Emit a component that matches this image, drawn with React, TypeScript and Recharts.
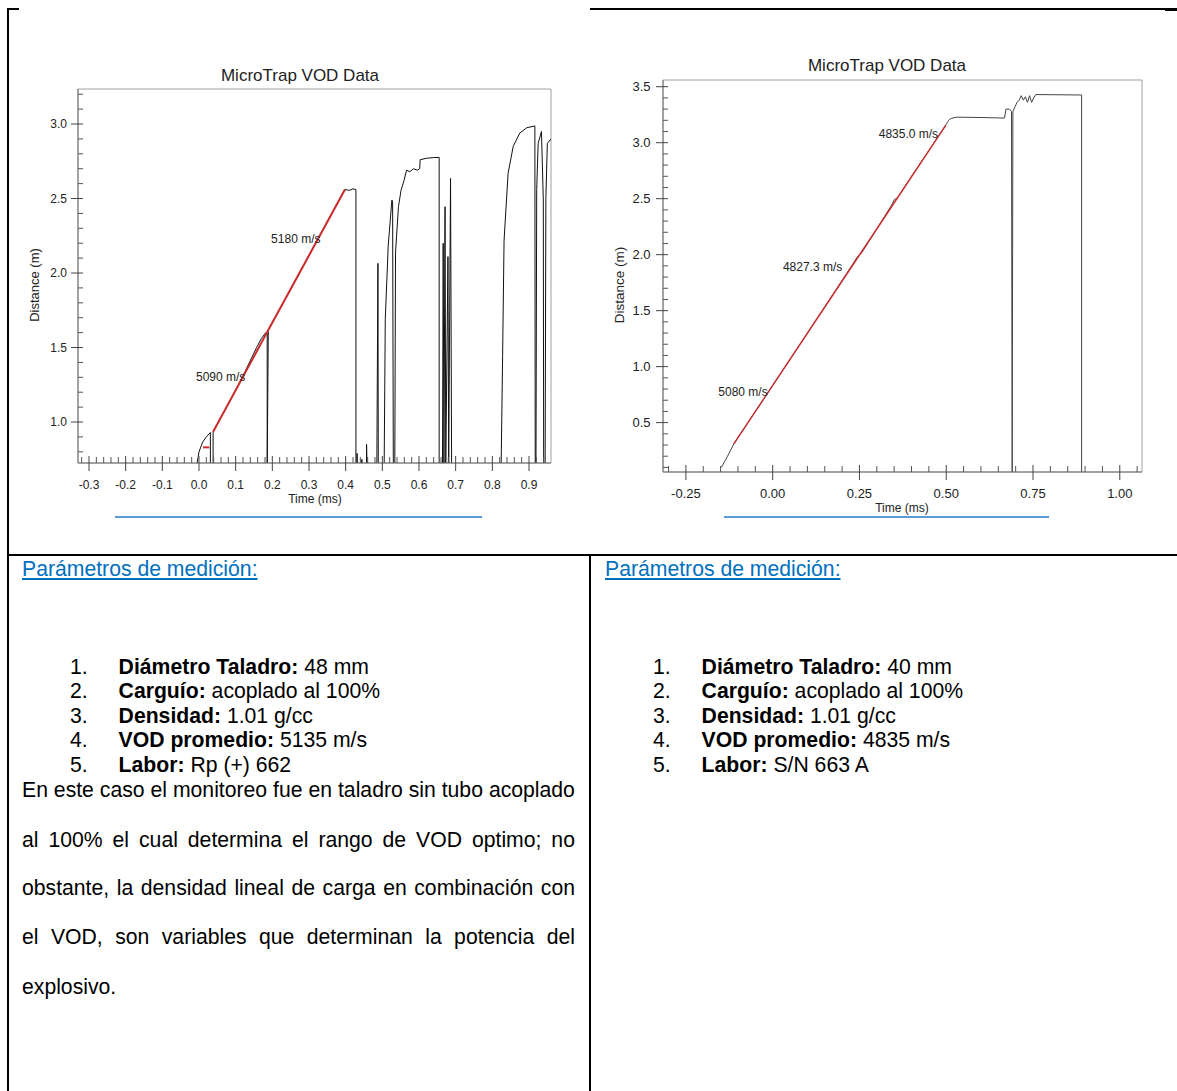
import React from "react";
import { LineChart, Line, XAxis, YAxis, ReferenceArea, ReferenceDot } from "recharts";

const FONT = '"Liberation Sans", Arial, Helvetica, sans-serif';

// ---------- left record (48 mm hole) ----------
const leftXLabels = ["-0.3", "-0.2", "-0.1", "0.0", "0.1", "0.2", "0.3", "0.4", "0.5", "0.6", "0.7", "0.8", "0.9"];
const leftYLabels = ["1.0", "1.5", "2.0", "2.5", "3.0"];

// [time ms, distance m]
const leftTrace: [number, number][] = [
  [-0.007, 0.7], [-0.002, 0.77], [0.0, 0.8], [0.01, 0.865], [0.02, 0.9], [0.031, 0.93],
  [0.031, 0.7], [0.0385, 0.7], [0.0385, 0.935],
  [0.08, 1.12], [0.12, 1.31], [0.157, 1.5], [0.17, 1.56], [0.182, 1.6], [0.186, 1.6],
  [0.186, 0.7], [0.189, 1.62],
  [0.25, 1.89], [0.3, 2.12], [0.35, 2.345], [0.398, 2.56], [0.41, 2.555], [0.42, 2.565], [0.428, 2.56],
  [0.428, 0.7],
  [0.431, 0.7], [0.431, 0.79], [0.432, 0.7],
  [0.444, 0.7], [0.444, 0.75], [0.445, 0.7],
  [0.457, 0.7], [0.457, 0.85], [0.458, 0.7],
  [0.485, 0.7], [0.488, 2.065], [0.489, 0.7],
  [0.505, 0.7], [0.508, 1.69], [0.516, 2.18], [0.526, 2.49], [0.528, 2.48], [0.53, 0.7],
  [0.534, 0.7], [0.536, 2.14], [0.544, 2.445], [0.551, 2.555], [0.559, 2.62], [0.566, 2.69],
  [0.575, 2.68], [0.585, 2.7], [0.595, 2.69], [0.602, 2.7], [0.603, 2.76], [0.62, 2.77], [0.64, 2.775], [0.655, 2.776],
  [0.655, 0.7],
  [0.664, 0.7], [0.666, 2.2], [0.668, 0.7], [0.671, 2.445], [0.673, 0.7], [0.679, 2.11], [0.681, 0.7],
  [0.686, 2.635], [0.689, 0.7],
  [0.824, 0.7], [0.828, 1.44], [0.832, 2.22], [0.843, 2.67], [0.857, 2.85], [0.875, 2.94], [0.894, 2.975], [0.916, 2.987],
  [0.917, 0.7], [0.919, 0.7], [0.921, 2.56], [0.925, 2.87], [0.934, 2.95], [0.939, 2.49], [0.94, 0.7],
  [0.944, 0.7], [0.946, 2.5], [0.95, 2.87], [0.96, 2.9],
];

// red regression segments
const leftFits: [number, number][][] = [
  [[0.011, 0.83], [0.028, 0.83]],
  [[0.0385, 0.935], [0.189, 1.617]],
  [[0.189, 1.617], [0.398, 2.56]],
];
const leftNotes = ["5090 m/s", "5180 m/s"];
const leftNoteAt: [number, number][] = [[0.059, 1.304], [0.264, 2.228]];

// ---------- right record (40 mm hole) ----------
const rightXLabels = ["-0.25", "0.00", "0.25", "0.50", "0.75", "1.00"];
const rightYLabels = ["0.5", "1.0", "1.5", "2.0", "2.5", "3.0", "3.5"];

const rightTrace: [number, number][] = [
  [-0.148, 0.1], [-0.13, 0.2], [-0.112, 0.31], [-0.05, 0.6], [0.0, 0.83], [0.1, 1.3], [0.2, 1.77],
  [0.245, 1.985], [0.25, 2.0], [0.255, 2.01], [0.3, 2.23], [0.345, 2.455], [0.35, 2.49], [0.36, 2.51],
  [0.4, 2.7], [0.45, 2.93], [0.499, 3.16], [0.507, 3.2], [0.514, 3.217], [0.53, 3.228], [0.6, 3.225],
  [0.668, 3.22], [0.672, 3.3], [0.682, 3.3], [0.688, 3.28],
  [0.69, 0.03], [0.692, 3.28],
  [0.698, 3.32], [0.704, 3.36], [0.71, 3.38], [0.716, 3.42], [0.722, 3.38], [0.728, 3.41], [0.734, 3.36],
  [0.74, 3.42], [0.746, 3.36], [0.752, 3.4], [0.758, 3.43], [0.89, 3.426],
  [0.89, 0.03],
];

const rightFits: [number, number][][] = [
  [[-0.112, 0.31], [0.0, 0.832]],
  [[0.0, 0.832], [0.25, 1.997]],
  [[0.25, 1.997], [0.499, 3.157]],
];
const rightNotes = ["5080 m/s", "4827.3 m/s", "4835.0 m/s"];
const rightNoteAt: [number, number][] = [[-0.0855, 0.774], [0.115, 1.891], [0.391, 3.083]];

// ---------- table text ----------
const paramLabels = ["Diámetro Taladro:", "Carguío:", "Densidad:", "VOD promedio:", "Labor:"];
const leftParamValues = ["48 mm", "acoplado al 100%", "1.01 g/cc", "5135 m/s", "Rp (+) 662"];
const rightParamValues = ["40 mm", "acoplado al 100%", "1.01 g/cc", "4835 m/s", "S/N 663 A"];
const commentLines = [
  "En este caso el monitoreo fue en taladro sin tubo acoplado",
  "al 100% el cual determina el rango de VOD optimo; no",
  "obstante, la densidad lineal de carga en combinación con",
  "el VOD, son variables que determinan la potencia del",
  "explosivo.",
];

const steps = (from: number, to: number, step: number) => {
  const out: number[] = [];
  const n = Math.round((to - from) / step);
  for (let i = 0; i <= n; i++) out.push(Math.round((from + i * step) * 1000) / 1000);
  return out;
};

const rows = (pts: [number, number][]) => pts.map(([t, d]) => ({ t, d }));

const findLabel = (labels: string[], v: number) =>
  labels.find((l) => Math.abs(parseFloat(l) - v) < 1e-6);

const makeXTick = (labels: string[], dy: number, fs: number) => (p: any) => {
  const { x, y, payload } = p;
  const lab = findLabel(labels, payload.value);
  if (lab === undefined) return <line x1={x} y1={y} x2={x} y2={y - 6} stroke="#555" />;
  return (
    <g>
      <line x1={x} y1={y - 7} x2={x} y2={y + 8} stroke="#444" />
      <text x={x} y={y + dy} textAnchor="middle" dominantBaseline="central" fontSize={fs} fontFamily={FONT} fill="#222">
        {lab}
      </text>
    </g>
  );
};

const makeYTick = (labels: string[], dx: number, fs: number) => (p: any) => {
  const { x, y, payload } = p;
  const lab = findLabel(labels, payload.value);
  if (lab === undefined) return <line x1={x} y1={y} x2={x + 5} y2={y} stroke="#555" />;
  return (
    <g>
      <line x1={x - 7} y1={y} x2={x + 5} y2={y} stroke="#444" />
      <text x={x - dx} y={y} textAnchor="end" dominantBaseline="central" fontSize={fs} fontFamily={FONT} fill="#222">
        {lab}
      </text>
    </g>
  );
};

interface VodChartProps {
  width: number;
  height: number;
  margin: { top: number; right: number; bottom: number; left: number };
  xDomain: [number, number];
  yDomain: [number, number];
  xLabels: string[];
  yLabels: string[];
  xTicks: number[];
  yTicks: number[];
  trace: [number, number][];
  fits: [number, number][][];
  notes: string[];
  noteAt: [number, number][];
  tickFont: number;
  xLabelDy: number;
  yLabelDx: number;
  traceColor: string;
  fitWidth: number;
}

function VodChart(props: VodChartProps) {
  const { xDomain, yDomain } = props;
  return (
    <LineChart width={props.width} height={props.height} margin={props.margin}>
      <ReferenceArea
        x1={xDomain[0]}
        x2={xDomain[1]}
        y1={yDomain[0]}
        y2={yDomain[1]}
        fill="none"
        stroke="#a0a0a0"
        ifOverflow="visible"
      />
      <XAxis
        type="number"
        dataKey="t"
        domain={xDomain}
        allowDataOverflow
        ticks={props.xTicks}
        interval={0}
        tickSize={0}
        tickMargin={0}
        tickLine={false}
        axisLine={{ stroke: "#777" }}
        height={40}
        tick={makeXTick(props.xLabels, props.xLabelDy, props.tickFont)}
      />
      <YAxis
        type="number"
        dataKey="d"
        domain={yDomain}
        allowDataOverflow
        ticks={props.yTicks}
        interval={0}
        tickSize={0}
        tickMargin={0}
        tickLine={false}
        axisLine={{ stroke: "#777" }}
        width={50}
        tick={makeYTick(props.yLabels, props.yLabelDx, props.tickFont)}
      />
      <Line
        data={rows(props.trace)}
        dataKey="d"
        type="linear"
        stroke={props.traceColor}
        strokeWidth={1}
        dot={false}
        isAnimationActive={false}
      />
      {props.fits.map((seg, i) => (
        <Line
          key={`fit-${i}`}
          data={rows(seg)}
          dataKey="d"
          type="linear"
          stroke="#cc2b2b"
          strokeWidth={props.fitWidth}
          dot={false}
          isAnimationActive={false}
        />
      ))}
      {props.notes.map((n, i) => (
        <ReferenceDot
          key={`note-${i}`}
          x={props.noteAt[i][0]}
          y={props.noteAt[i][1]}
          r={1}
          fill="none"
          stroke="none"
          label={{ value: n, position: "center", fontSize: 12, fill: "#222", fontFamily: FONT }}
        />
      ))}
    </LineChart>
  );
}

const abs = (left: number, top: number, extra: React.CSSProperties = {}): React.CSSProperties => ({
  position: "absolute",
  left,
  top,
  ...extra,
});

const TXT = 21.2;
const LINE = 24.5;
const itemTops = [654.7, 679, 703.7, 728, 753];
const commentTops = [778, 828, 876, 925, 975];

function Params({ x, values }: { x: number; values: string[] }) {
  return (
    <>
      <div
        style={abs(x, 556.7, {
          fontSize: TXT,
          lineHeight: `${LINE}px`,
          color: "#0070C0",
          textDecoration: "underline",
          whiteSpace: "nowrap",
        })}
      >
        Parámetros de medición:
      </div>
      {values.map((v, i) => (
        <React.Fragment key={i}>
          <div style={abs(x + 48, itemTops[i], { fontSize: TXT, lineHeight: `${LINE}px`, whiteSpace: "nowrap" })}>
            {i + 1}.
          </div>
          <div style={abs(x + 96.6, itemTops[i], { fontSize: TXT, lineHeight: `${LINE}px`, whiteSpace: "nowrap" })}>
            <b>{paramLabels[i]}</b> {v}
          </div>
        </React.Fragment>
      ))}
    </>
  );
}

export default function App() {
  return (
    <div
      style={{
        position: "absolute",
        left: 0,
        top: 0,
        width: 1177,
        height: 1091,
        background: "#fff",
        overflow: "hidden",
        fontFamily: FONT,
        color: "#000",
      }}
    >
      {/* table rules */}
      <div style={abs(7, 8, { width: 2, height: 1083, background: "#000" })} />
      <div style={abs(7, 8, { width: 12, height: 2, background: "#000" })} />
      <div style={abs(590, 8, { width: 587, height: 1.5, background: "#000" })} />
      <div style={abs(1165, 8, { width: 12, height: 2.5, background: "#000" })} />
      <div style={abs(7, 554, { width: 1170, height: 2, background: "#000" })} />
      <div style={abs(589, 554, { width: 2, height: 537, background: "#000" })} />

      {/* left chart */}
      <div style={abs(0, 66, { width: 600, textAlign: "center", fontSize: 17, lineHeight: "20px", color: "#222" })}>
        MicroTrap VOD Data
      </div>
      <div style={abs(0, 0)}>
        <VodChart
          width={590}
          height={520}
          margin={{ top: 89, right: 39, bottom: 17, left: 28 }}
          xDomain={[-0.33, 0.96]}
          yDomain={[0.725, 3.235]}
          xLabels={leftXLabels}
          yLabels={leftYLabels}
          xTicks={steps(-0.32, 0.94, 0.02)}
          yTicks={steps(0.8, 3.2, 0.1)}
          trace={leftTrace}
          fits={leftFits}
          notes={leftNotes}
          noteAt={leftNoteAt}
          tickFont={12}
          xLabelDy={22}
          yLabelDx={11}
          traceColor="#111"
          fitWidth={2}
        />
      </div>
      <div style={abs(215, 491, { width: 200, textAlign: "center", fontSize: 12, lineHeight: "16px", color: "#222" })}>
        Time (ms)
      </div>
      <div
        style={abs(-35, 277, {
          width: 140,
          height: 16,
          textAlign: "center",
          fontSize: 13,
          lineHeight: "16px",
          color: "#222",
          transform: "rotate(-90deg)",
        })}
      >
        Distance (m)
      </div>
      <div style={abs(115, 516, { width: 367, height: 1.5, background: "#5b9bd5" })} />

      {/* right chart */}
      <div style={abs(687, 56, { width: 400, textAlign: "center", fontSize: 17, lineHeight: "20px", color: "#222" })}>
        MicroTrap VOD Data
      </div>
      <div style={abs(590, 0)}>
        <VodChart
          width={587}
          height={520}
          margin={{ top: 80, right: 35, bottom: 8, left: 23 }}
          xDomain={[-0.316, 1.064]}
          yDomain={[0.059, 3.56]}
          xLabels={rightXLabels}
          yLabels={rightYLabels}
          xTicks={steps(-0.3, 1.05, 0.05)}
          yTicks={steps(0.1, 3.5, 0.1)}
          trace={rightTrace}
          fits={rightFits}
          notes={rightNotes}
          noteAt={rightNoteAt}
          tickFont={13}
          xLabelDy={21}
          yLabelDx={12.5}
          traceColor="#444"
          fitWidth={1.4}
        />
      </div>
      <div style={abs(802, 500, { width: 200, textAlign: "center", fontSize: 12, lineHeight: "16px", color: "#222" })}>
        Time (ms)
      </div>
      <div
        style={abs(550, 277, {
          width: 140,
          height: 16,
          textAlign: "center",
          fontSize: 13.5,
          lineHeight: "16px",
          color: "#222",
          transform: "rotate(-90deg)",
        })}
      >
        Distance (m)
      </div>
      <div style={abs(724, 516, { width: 325, height: 1.5, background: "#5b9bd5" })} />

      {/* measurement parameters */}
      <Params x={22} values={leftParamValues} />
      <Params x={605} values={rightParamValues} />

      {commentLines.map((line, i) => {
        const last = i === commentLines.length - 1;
        return (
          <div
            key={i}
            style={abs(22, commentTops[i], {
              width: 553,
              fontSize: TXT,
              lineHeight: `${LINE}px`,
              whiteSpace: "nowrap",
              display: "flex",
              justifyContent: last ? "flex-start" : "space-between",
            })}
          >
            {line.split(" ").map((w, j) => (
              <span key={j} style={{ marginRight: last ? 5.9 : 0 }}>
                {w}
              </span>
            ))}
          </div>
        );
      })}
    </div>
  );
}
